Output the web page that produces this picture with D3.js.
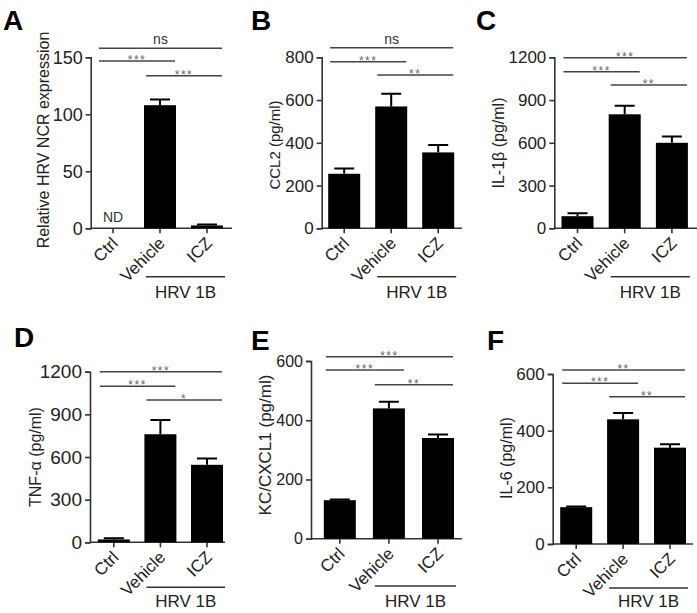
<!DOCTYPE html>
<html>
<head>
<meta charset="utf-8">
<script src="https://cdn.jsdelivr.net/npm/d3@7"></script>
<style>
  html, body { margin: 0; padding: 0; background: #fff; }
  svg text { font-family: "Liberation Sans", Arial, sans-serif; }
</style>
</head>
<body>
<svg id="chart" width="697" height="613"></svg>
<script>
// ---------------- DATA ----------------
const categories = ["Ctrl", "Vehicle", "ICZ"];
const groupLabel = "HRV 1B";
const panelLetters = ["A", "B", "C", "D", "E", "F"];
const yLabels = ["Relative  HRV NCR expression", "CCL2 (pg/ml)", "IL-1\u03B2 (pg/ml)",
                 "TNF-\u03B1 (pg/ml)", "KC/CXCL1 (pg/ml)", "IL-6 (pg/ml)"];
const yMax = [150, 800, 1200, 1200, 600, 600];
const yTickStep = [50, 200, 300, 300, 200, 200];

const hrvNcr = [0, 108, 2.5];      const hrvNcrSem = [0, 5, 0.8];
const ccl2 = [255, 570, 355];      const ccl2Sem = [25, 60, 35];
const il1b = [85, 800, 600];       const il1bSem = [20, 60, 45];
const tnfa = [20, 760, 545];       const tnfaSem = [8, 100, 45];
const kcCxcl1 = [130, 440, 340];   const kcCxcl1Sem = [2, 22, 12];
const il6 = [130, 440, 340];       const il6Sem = [2, 22, 12];

const panelValues = [hrvNcr, ccl2, il1b, tnfa, kcCxcl1, il6];
const panelSems = [hrvNcrSem, ccl2Sem, il1bSem, tnfaSem, kcCxcl1Sem, il6Sem];

// significance: pairs in drawing order (top -> bottom)
const sigPairs = [["Ctrl", "ICZ"], ["Ctrl", "Vehicle"], ["Vehicle", "ICZ"]];
const sigA = ["ns", "***", "***"];
const sigB = ["ns", "***", "**"];
const sigC = ["***", "***", "**"];
const sigD = ["***", "***", "*"];
const sigE = ["***", "***", "**"];
const sigF = ["**", "***", "**"];
const panelSigs = [sigA, sigB, sigC, sigD, sigE, sigF];
const notDetected = [["Ctrl"], [], [], [], [], []];

// ---------------- LAYOUT ----------------
const layout = [
  {ox: 90.7, y0: 228.3, yTop: 57.3, c0: 113.0, step: 47.0, xEnd: 232, sigY: [48.3, 61, 75.7], hrvY: 276.7, letter: [3, 30],   ylab: [49, 140],  ylabSize: 16, tickSize: 18},
  {ox: 321.7, y0: 228.3, yTop: 57.3, c0: 344.2, step: 47.0, xEnd: 462, sigY: [47.7, 61.7, 75], hrvY: 276.7, letter: [251, 30], ylab: [280, 145], ylabSize: 15, tickSize: 17},
  {ox: 554.3, y0: 228.3, yTop: 57.3, c0: 577.5, step: 47.2, xEnd: 697, sigY: [57.7, 71.7, 85], hrvY: 276.7, letter: [476, 30], ylab: [504, 143], ylabSize: 16, tickSize: 17},
  {ox: 90.0, y0: 542.3, yTop: 371.7, c0: 113.8, step: 46.6, xEnd: 225, sigY: [371.7, 386.3, 400], hrvY: 587.3, letter: [14, 347], ylab: [41, 457], ylabSize: 16, tickSize: 19},
  {ox: 311.0, y0: 538.7, yTop: 361.0, c0: 339.8, step: 49.1, xEnd: 462, sigY: [356.7, 370, 384.7], hrvY: 586, letter: [251, 350], ylab: [271, 445], ylabSize: 17, tickSize: 16},
  {ox: 552.7, y0: 544.0, yTop: 374.0, c0: 576.2, step: 46.9, xEnd: 693, sigY: [370, 383.3, 396.7], hrvY: 588, letter: [487, 350], ylab: [512, 458], ylabSize: 16, tickSize: 17}
];
const barWidth = 32;
const axisColor = "#333";
const textColor = "#222";

const svg = d3.select("#chart");

panelLetters.forEach((letter, i) => {
  const L = layout[i];
  const g = svg.append("g");
  const values = panelValues[i], sems = panelSems[i];

  const pad = 1 - barWidth / L.step;
  const x = d3.scaleBand().domain(categories)
    .range([L.c0 - L.step / 2, L.c0 + 2.5 * L.step])
    .paddingInner(pad).paddingOuter(pad / 2);
  const bw = x.bandwidth();
  const y = d3.scaleLinear().domain([0, yMax[i]]).range([L.y0, L.yTop]);

  // y axis
  const yAxis = d3.axisLeft(y).tickValues(d3.range(0, yMax[i] + 1, yTickStep[i]))
    .tickFormat(d3.format("d")).tickSize(5).tickPadding(3);
  const ya = g.append("g").attr("transform", `translate(${L.ox},0)`).call(yAxis);
  ya.select(".domain").attr("stroke", axisColor).attr("stroke-width", 1.6);
  ya.selectAll(".tick line").attr("stroke", axisColor).attr("stroke-width", 1.6);
  ya.selectAll(".tick text").attr("fill", textColor).style("font-size", L.tickSize + "px");

  // x axis line
  g.append("line").attr("x1", L.ox).attr("x2", L.xEnd).attr("y1", L.y0).attr("y2", L.y0)
    .attr("stroke", axisColor).attr("stroke-width", 1.6);
  const xAxis = d3.axisBottom(x).tickSize(5).tickFormat("");
  const xa = g.append("g").attr("transform", `translate(0,${L.y0})`).call(xAxis);
  xa.select(".domain").remove();
  xa.selectAll(".tick line").attr("stroke", axisColor).attr("stroke-width", 1.6);

  // rotated category labels
  g.selectAll(".xlab").data(categories).enter().append("text")
    .attr("transform", d => `translate(${x(d) + bw / 2 + 6},${L.y0 + 16}) rotate(-45)`)
    .attr("text-anchor", "end")
    .attr("fill", textColor)
    .style("font-size", "17px")
    .text(d => d);

  // bars
  const rows = categories.map((c, k) => ({c, v: values[k], s: sems[k]}))
    .filter(r => !notDetected[i].includes(r.c));
  g.selectAll(".bar").data(rows).enter().append("rect")
    .attr("x", d => x(d.c)).attr("width", bw)
    .attr("y", d => y(d.v)).attr("height", d => L.y0 - y(d.v))
    .attr("fill", "#000");
  // error bars
  g.selectAll(".err").data(rows.filter(r => r.s > 0)).enter().append("path")
    .attr("d", d => {
      const cx = x(d.c) + bw / 2, yt = y(d.v + d.s);
      return `M${cx},${y(d.v)}V${yt}M${cx - 10},${yt}H${cx + 10}`;
    })
    .attr("stroke", "#000").attr("stroke-width", 2).attr("fill", "none");

  // ND labels
  notDetected[i].forEach(c => {
    g.append("text").attr("x", x(c) + bw / 2).attr("y", L.y0 - 6)
      .attr("text-anchor", "middle").attr("fill", "#333").style("font-size", "14px").text("ND");
  });

  // significance lines
  sigPairs.forEach((p, k) => {
    const x1 = x(p[0]) + 2, x2 = x(p[1]) + bw - 1, yy = L.sigY[k];
    g.append("line").attr("x1", x1).attr("x2", x2).attr("y1", yy).attr("y2", yy)
      .attr("stroke", "#444").attr("stroke-width", 1.4);
    const lab = panelSigs[i][k];
    if (lab === "ns") {
      g.append("text").attr("x", (x1 + x2) / 2).attr("y", yy - 4).attr("text-anchor", "middle")
        .attr("fill", "#333").style("font-size", "14px").text(lab);
    } else {
      g.append("text").attr("x", (x1 + x2) / 2).attr("y", yy + 3).attr("text-anchor", "middle")
        .attr("fill", "#666").style("font-size", "12px").style("letter-spacing", "1.5px").text(lab);
    }
  });

  // HRV 1B group line
  const hx1 = x("Vehicle") + 2, hx2 = x("ICZ") + bw + 2;
  g.append("line").attr("x1", hx1).attr("x2", hx2).attr("y1", L.hrvY).attr("y2", L.hrvY)
    .attr("stroke", "#333").attr("stroke-width", 1.4);
  g.append("text").attr("x", (hx1 + hx2) / 2).attr("y", Math.min(L.hrvY + 21, 607)).attr("text-anchor", "middle")
    .attr("fill", textColor).style("font-size", "17px").text(groupLabel);

  // y label
  g.append("text").attr("transform", `translate(${L.ylab[0]},${L.ylab[1]}) rotate(-90)`)
    .attr("text-anchor", "middle").attr("fill", textColor)
    .style("font-size", L.ylabSize + "px").text(yLabels[i]);

  // panel letter
  g.append("text").attr("x", L.letter[0]).attr("y", L.letter[1])
    .attr("fill", "#000").style("font-size", "28px").style("font-weight", "bold").text(letter);
});
</script>
</body>
</html>
